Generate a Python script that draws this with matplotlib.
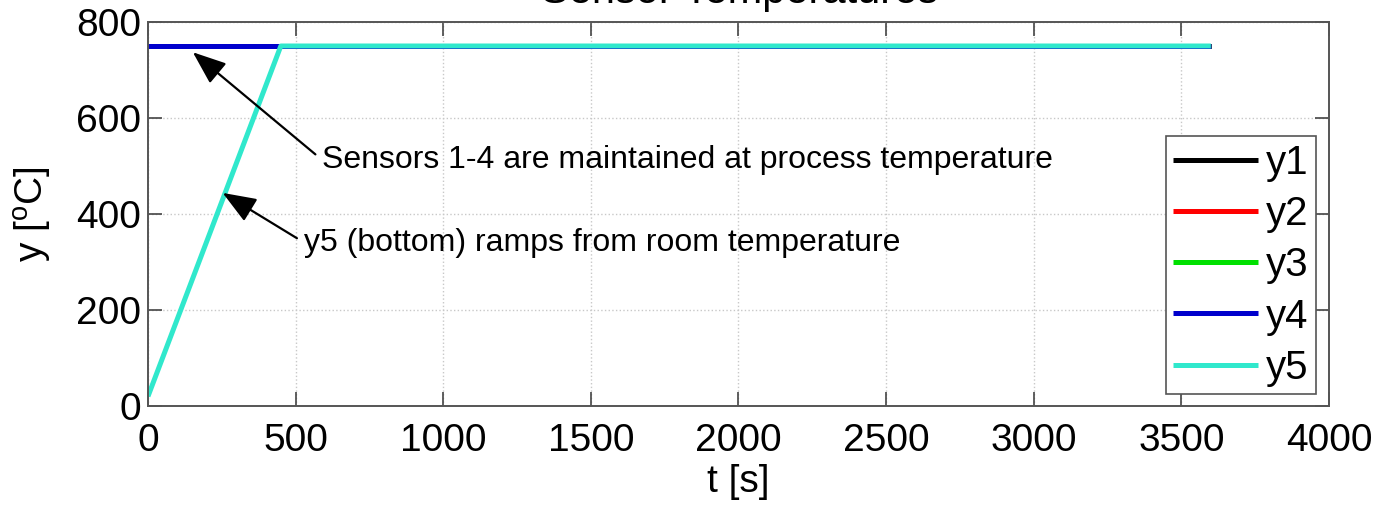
import matplotlib
matplotlib.use("Agg")
import matplotlib.pyplot as plt

plt.rcParams["font.family"] = ["Liberation Sans", "DejaVu Sans"]
plt.rcParams["mathtext.fontset"] = "custom"
plt.rcParams["mathtext.rm"] = "Liberation Sans"

# sensor traces: t [s] vs temperature [C]
t_hold = [0, 3600]
y1 = [750, 750]
y2 = [750, 750]
y3 = [750, 750]
y4 = [750, 750]
t5 = [0, 450, 3600]
y5 = [20, 750, 750]

labels = ["y1", "y2", "y3", "y4", "y5"]
colors = ["black", "#ff0000", "#00e000", "#0000cc", "#30e8cc"]

xticks = [0, 500, 1000, 1500, 2000, 2500, 3000, 3500, 4000]
yticks = [0, 200, 400, 600, 800]

fig = plt.figure(figsize=(13.79, 5.07), dpi=100)
ax = fig.add_axes([0.1073, 0.1992, 0.8564, 0.7574])

series = [(t_hold, y1), (t_hold, y2), (t_hold, y3), (t_hold, y4), (t5, y5)]
for (tt, yy), lab, col in zip(series, labels, colors):
    ax.plot(tt, yy, color=col, lw=3.6, label=lab, solid_capstyle="butt")

ax.set_xlim(0, 4000)
ax.set_ylim(0, 800)
ax.set_xticks(xticks)
ax.set_yticks(yticks)
ax.tick_params(direction="in", length=10, width=1.2, top=True, right=True,
               labelsize=28, colors="#444444", labelcolor="black")
ax.tick_params(axis="x", pad=12)
ax.tick_params(axis="y", pad=5)
for sp in ax.spines.values():
    sp.set_color("#555555")
    sp.set_linewidth(1.4)
ax.grid(True, linestyle=":", color="#c8c8c8", linewidth=1)

ax.set_xlabel("t [s]", fontsize=28, labelpad=4)
ax.set_ylabel("y [$^{\\rm o}$C]", fontsize=28, labelpad=16)

fig.text(0.536, 0.994, "Sensor Temperatures", fontsize=30, ha="center",
         va="baseline")

arrow = dict(arrowstyle="-|>,head_length=0.9,head_width=0.35", color="black",
             lw=1.6, shrinkA=4, shrinkB=0, relpos=(0, 0.5))
ax.annotate("Sensors 1-4 are maintained at process temperature",
            xy=(152, 737), xytext=(591, 512), fontsize=23, va="center",
            ha="left", arrowprops=arrow)
ax.annotate("y5 (bottom) ramps from room temperature",
            xy=(253, 444), xytext=(530, 340), fontsize=23, va="center",
            ha="left", arrowprops=arrow)

leg = ax.legend(loc="lower right", bbox_to_anchor=(0.989, 0.031),
                borderaxespad=0, fontsize=29, fancybox=False, framealpha=1,
                handlelength=2.1, handletextpad=0.2, labelspacing=0.33,
                borderpad=0.18)
leg.get_frame().set_edgecolor("#555555")
leg.get_frame().set_linewidth(1.2)

fig.savefig("out.png", dpi=100)
